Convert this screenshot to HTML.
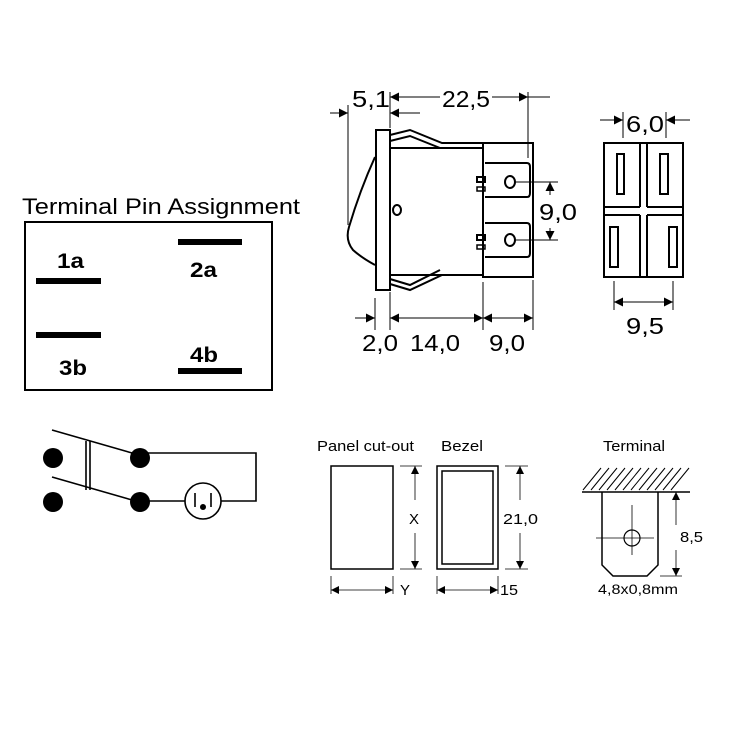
<!DOCTYPE html>
<html><head><style>body{margin:0;background:#fff}svg{display:block}text{font-family:"Liberation Sans",sans-serif}</style></head><body>
<svg width="732" height="732" viewBox="0 0 732 732" xmlns="http://www.w3.org/2000/svg">
<defs><marker id="a" viewBox="0 0 10 10" refX="10" refY="5" markerWidth="10" markerHeight="8" orient="auto-start-reverse" markerUnits="userSpaceOnUse"><path d="M0,0 L10,5 L0,10z" fill="#000"/></marker>
<marker id="b" viewBox="0 0 10 10" refX="10" refY="5" markerWidth="12" markerHeight="9" orient="auto-start-reverse" markerUnits="userSpaceOnUse"><path d="M0,0 L10,5 L0,10z" fill="#000"/></marker></defs>
<rect width="732" height="732" fill="#fff"/>
<g fill="none" stroke="#000" stroke-width="2">
<rect x="25" y="222" width="247" height="168"/>
</g>
<text x="22" y="214" font-size="22" textLength="278" lengthAdjust="spacingAndGlyphs">Terminal Pin Assignment</text>
<g fill="#000">
<rect x="36" y="278" width="65" height="6"/><rect x="178" y="239" width="64" height="6"/>
<rect x="36" y="332" width="65" height="6"/><rect x="178" y="368" width="64" height="6"/>
</g>
<g font-size="21" font-weight="bold">
<text x="57" y="268" textLength="27" lengthAdjust="spacingAndGlyphs">1a</text><text x="190" y="277" textLength="27" lengthAdjust="spacingAndGlyphs">2a</text><text x="59" y="375" textLength="28" lengthAdjust="spacingAndGlyphs">3b</text><text x="190" y="362" textLength="28" lengthAdjust="spacingAndGlyphs">4b</text>
</g>
<g fill="#000"><circle cx="53" cy="458" r="10"/><circle cx="53" cy="502" r="10"/><circle cx="140" cy="458" r="10"/><circle cx="140" cy="502" r="10"/><circle cx="203" cy="507" r="3"/></g>
<g fill="none" stroke="#000" stroke-width="1.6">
<line x1="52" y1="430" x2="132" y2="453"/><line x1="52" y1="477" x2="132" y2="500"/>
<line x1="86" y1="441" x2="86" y2="490"/><line x1="90" y1="441" x2="90" y2="490"/>
<polyline points="140,453 256,453 256,501 221,501"/><line x1="140" y1="501" x2="185" y2="501"/>
<circle cx="203" cy="501" r="18"/><line x1="195" y1="493" x2="195" y2="507"/><line x1="211" y1="493" x2="211" y2="507"/>
</g>
<g fill="none" stroke="#000" stroke-width="2">
<rect x="376" y="130" width="14" height="160" fill="#fff"/>
<rect x="390" y="148" width="93" height="127"/>
<rect x="483" y="143" width="50" height="134"/>
<path d="M375,157 Q360,190 349,227 Q345,240 353,250 Q362,258 375,265"/>
<polyline points="390,135 410,130 442,143 483,143"/><polyline points="390,141 410,136 440,148"/>
<polyline points="390,284 410,290 442,275 483,275"/><polyline points="390,279 410,285 440,270"/>
<path d="M485,163 H527 Q530,163 530,167 V193 Q530,197 527,197 H485"/>
<path d="M485,223 H527 Q530,223 530,227 V253 Q530,257 527,257 H485"/>
<rect x="477" y="177" width="8" height="5"/><rect x="477" y="187" width="8" height="4" stroke-width="1.5"/>
<rect x="477" y="235" width="8" height="5"/><rect x="477" y="245" width="8" height="4" stroke-width="1.5"/>
<ellipse cx="510" cy="182" rx="5" ry="6"/><ellipse cx="510" cy="240" rx="5" ry="6"/>
<ellipse cx="397" cy="210" rx="4" ry="5"/>
</g>
<g fill="none" stroke="#000" stroke-width="1">
<line x1="348" y1="105" x2="348" y2="225"/><line x1="390" y1="92" x2="390" y2="128"/><line x1="528" y1="92" x2="528" y2="158"/>
<line x1="330" y1="113" x2="348" y2="113" marker-end="url(#b)"/><line x1="420" y1="113" x2="390" y2="113" marker-end="url(#b)"/>
<line x1="440" y1="97" x2="390" y2="97" marker-end="url(#b)"/><line x1="492" y1="97" x2="528" y2="97" marker-end="url(#b)"/><line x1="528" y1="97" x2="550" y2="97"/>
<line x1="515" y1="182" x2="558" y2="182"/><line x1="515" y1="240" x2="558" y2="240"/>
<line x1="550" y1="195" x2="550" y2="182" marker-end="url(#b)"/><line x1="550" y1="228" x2="550" y2="240" marker-end="url(#b)"/>
<line x1="375" y1="298" x2="375" y2="330"/><line x1="390" y1="292" x2="390" y2="330"/><line x1="483" y1="282" x2="483" y2="330"/><line x1="533" y1="280" x2="533" y2="330"/>
<line x1="355" y1="318" x2="375" y2="318" marker-end="url(#b)"/><line x1="440" y1="318" x2="390" y2="318" marker-end="url(#b)"/><line x1="440" y1="318" x2="483" y2="318" marker-end="url(#b)"/>
<line x1="510" y1="318" x2="483" y2="318" marker-end="url(#b)"/><line x1="505" y1="318" x2="533" y2="318" marker-end="url(#b)"/>
</g>
<g font-size="23">
<text x="352" y="107" textLength="38" lengthAdjust="spacingAndGlyphs">5,1</text><text x="442" y="107" textLength="48" lengthAdjust="spacingAndGlyphs">22,5</text><text x="539" y="220" textLength="38" lengthAdjust="spacingAndGlyphs">9,0</text>
<text x="362" y="351" textLength="36" lengthAdjust="spacingAndGlyphs">2,0</text><text x="410" y="351" textLength="50" lengthAdjust="spacingAndGlyphs">14,0</text><text x="489" y="351" textLength="36" lengthAdjust="spacingAndGlyphs">9,0</text>
<text x="626" y="132" textLength="38" lengthAdjust="spacingAndGlyphs">6,0</text><text x="626" y="334" textLength="38" lengthAdjust="spacingAndGlyphs">9,5</text>
</g>
<g fill="none" stroke="#000" stroke-width="2">
<rect x="604" y="143" width="79" height="134"/>
<line x1="640" y1="143" x2="640" y2="207"/><line x1="647" y1="143" x2="647" y2="207"/>
<line x1="640" y1="215" x2="640" y2="277"/><line x1="647" y1="215" x2="647" y2="277"/>
<line x1="604" y1="207" x2="640" y2="207"/><line x1="647" y1="207" x2="683" y2="207"/>
<line x1="604" y1="215" x2="640" y2="215"/><line x1="647" y1="215" x2="683" y2="215"/>
<rect x="617" y="154" width="7" height="40"/><rect x="660" y="154" width="8" height="40"/>
<rect x="610" y="227" width="8" height="40"/><rect x="669" y="227" width="8" height="40"/>
</g>
<g fill="none" stroke="#000" stroke-width="1">
<line x1="623" y1="112" x2="623" y2="138"/><line x1="666" y1="112" x2="666" y2="138"/>
<line x1="600" y1="120" x2="623" y2="120" marker-end="url(#b)"/><line x1="690" y1="120" x2="666" y2="120" marker-end="url(#b)"/>
<line x1="614" y1="281" x2="614" y2="310"/><line x1="673" y1="281" x2="673" y2="310"/>
<line x1="640" y1="302" x2="614" y2="302" marker-end="url(#b)"/><line x1="640" y1="302" x2="673" y2="302" marker-end="url(#b)"/>
</g>
<g font-size="15"><text x="317" y="451" textLength="97" lengthAdjust="spacingAndGlyphs">Panel cut-out</text><text x="441" y="451" textLength="42" lengthAdjust="spacingAndGlyphs">Bezel</text><text x="603" y="451" textLength="62" lengthAdjust="spacingAndGlyphs">Terminal</text>
<text x="409" y="524">X</text><text x="503" y="524" textLength="35" lengthAdjust="spacingAndGlyphs">21,0</text><text x="400" y="595">Y</text><text x="500" y="595" textLength="18" lengthAdjust="spacingAndGlyphs">15</text></g>
<text x="598" y="594" font-size="14" textLength="80" lengthAdjust="spacingAndGlyphs">4,8x0,8mm</text><text x="680" y="542" font-size="15" textLength="23" lengthAdjust="spacingAndGlyphs">8,5</text>
<g fill="none" stroke="#000" stroke-width="1.5">
<rect x="331" y="466" width="62" height="103"/>
<rect x="437" y="466" width="61" height="103"/><rect x="442" y="471" width="51" height="93"/>
</g>
<g fill="none" stroke="#000" stroke-width="0.8">
<line x1="400" y1="466" x2="422" y2="466"/><line x1="400" y1="569" x2="422" y2="569"/>
<line x1="415" y1="500" x2="415" y2="466" marker-end="url(#a)"/><line x1="415" y1="533" x2="415" y2="569" marker-end="url(#a)"/>
<line x1="505" y1="466" x2="528" y2="466"/><line x1="505" y1="569" x2="528" y2="569"/>
<line x1="520" y1="500" x2="520" y2="466" marker-end="url(#a)"/><line x1="520" y1="533" x2="520" y2="569" marker-end="url(#a)"/>
<line x1="331" y1="576" x2="331" y2="594"/><line x1="393" y1="576" x2="393" y2="594"/>
<line x1="362" y1="590" x2="331" y2="590" marker-end="url(#a)"/><line x1="362" y1="590" x2="393" y2="590" marker-end="url(#a)"/>
<line x1="437" y1="576" x2="437" y2="594"/><line x1="498" y1="576" x2="498" y2="594"/>
<line x1="467" y1="590" x2="437" y2="590" marker-end="url(#a)"/><line x1="467" y1="590" x2="498" y2="590" marker-end="url(#a)"/>
<line x1="582" y1="492" x2="690" y2="492" stroke-width="1.5"/>
<path d="M583,490 L601,468 M591,490 L609,468 M599,490 L617,468 M607,490 L625,468 M615,490 L633,468 M623,490 L641,468 M631,490 L649,468 M639,490 L657,468 M647,490 L665,468 M655,490 L673,468 M663,490 L681,468 M671,490 L689,468" stroke-width="1"/>
<path d="M602,492 V565 L613,576 H647 L658,565 V492" stroke-width="1.5"/>
<circle cx="632" cy="538" r="8" stroke-width="1.2"/>
<line x1="632" y1="505" x2="632" y2="555"/><line x1="596" y1="538" x2="654" y2="538"/>
<line x1="660" y1="576" x2="682" y2="576"/>
<line x1="676" y1="525" x2="676" y2="492" marker-end="url(#a)"/><line x1="676" y1="550" x2="676" y2="576" marker-end="url(#a)"/>
</g>
</svg>
</body></html>
